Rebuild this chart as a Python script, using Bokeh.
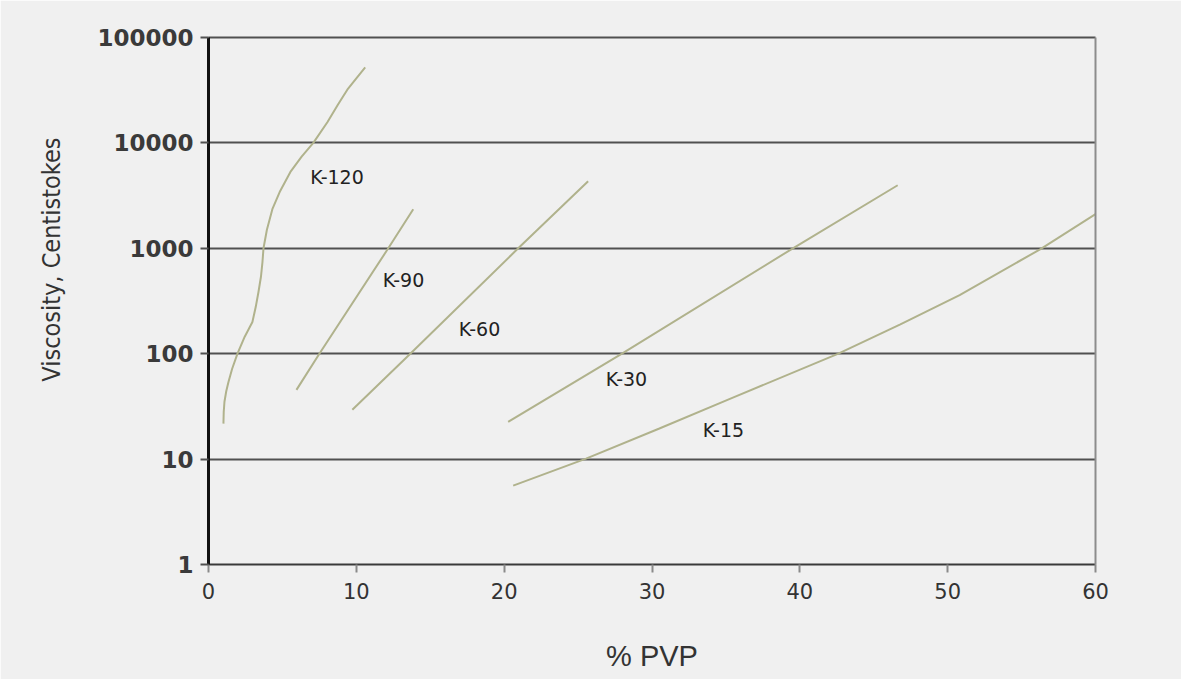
from bokeh.plotting import figure
from bokeh.models import Range1d, FixedTicker, NumeralTickFormatter, LogAxis, ColumnDataSource, Title
from bokeh.core.properties import value
from bokeh.embed import file_html
from bokeh.resources import INLINE

# ---- data ----
x_ticks = [0, 10, 20, 30, 40, 50, 60]
y_ticks = [1, 10, 100, 1000, 10000, 100000]

k120_x = [1.01, 1.03, 1.08, 1.2, 1.35, 1.6, 1.96, 2.45, 2.97, 3.2, 3.38, 3.55, 3.65, 3.72, 3.95, 4.32, 4.85, 5.54, 6.3, 7.09, 8.04, 8.75, 9.39, 10.0, 10.6]
k120_y = [21.7, 28, 35, 44, 54, 72, 100, 145, 200, 280, 385, 540, 740, 1000, 1500, 2350, 3500, 5300, 7400, 10000, 15700, 23000, 32000, 41000, 52000]

k90_x = [5.95, 7.50, 12.16, 13.85]
k90_y = [45.4, 100, 1000, 2350]

k60_x = [9.73, 13.65, 20.95, 25.68]
k60_y = [29.4, 100, 1000, 4330]

k30_x = [20.27, 27.97, 39.53, 46.62]
k30_y = [22.6, 100, 1000, 3965]

k15_x = [20.61, 25.54, 30.5, 35.27, 42.57, 46.8, 50.81, 56.28, 60.0]
k15_y = [5.6, 10.1, 19.5, 37.3, 99.6, 190, 360, 983, 2110]

label_text = ["K-120", "K-90", "K-60", "K-30", "K-15"]
label_x = [8.69, 13.19, 18.33, 28.27, 34.83]
label_y = [4750, 495, 172, 57.5, 18.7]

x_title = "% PVP"
y_title = "Viscosity, Centistokes"

BG = "#f0f0f0"
CURVE = "#b0b28c"
GRID = "#505050"

p = figure(width=1181, height=679,
           x_range=Range1d(0, 60), y_range=Range1d(1, 100000),
           y_axis_type="log",
           output_backend="svg", toolbar_location=None,
           min_border_left=208, min_border_right=86,
           min_border_top=37, min_border_bottom=115,
           background_fill_color=BG, border_fill_color=BG)
p.outline_line_color = None

# x axis
p.xaxis.ticker = FixedTicker(ticks=x_ticks)
p.xaxis.minor_tick_line_color = None
p.xaxis.major_tick_in = 0
p.xaxis.major_tick_out = 8
p.xaxis.major_tick_line_color = "#8a8a8a"
p.xaxis.major_tick_line_width = 2
p.xaxis.axis_line_color = "#3a3a3a"
p.xaxis.axis_line_width = 2
p.xaxis.major_label_text_font = "DejaVu Sans"
p.xaxis.major_label_text_font_size = "21px"
p.xaxis.major_label_text_color = "#333333"
p.xaxis.major_label_standoff = 10
p.xaxis.axis_label = x_title
p.xaxis.axis_label_text_font = "Liberation Sans"
p.xaxis.axis_label_text_font_style = "normal"
p.xaxis.axis_label_text_font_size = "29px"
p.xaxis.axis_label_text_color = "#333333"
p.xaxis.axis_label_standoff = 38

# y axis
p.yaxis.ticker = FixedTicker(ticks=y_ticks)
p.yaxis.formatter = NumeralTickFormatter(format="0")
p.yaxis.minor_tick_line_color = None
p.yaxis.major_tick_in = 0
p.yaxis.major_tick_out = 8
p.yaxis.major_tick_line_color = GRID
p.yaxis.major_tick_line_width = 2
p.yaxis.axis_line_color = "#111111"
p.yaxis.axis_line_width = 3
p.yaxis.major_label_text_font = "DejaVu Sans"
p.yaxis.major_label_text_font_style = "bold"
p.yaxis.major_label_text_font_size = "23px"
p.yaxis.major_label_text_color = "#3a3a3a"
p.yaxis.major_label_standoff = 7

# y title in the left side panel, shifted toward the top like the reference
p.add_layout(Title(text=y_title, align="right", offset=100, standoff=58,
                   text_font="DejaVu Sans Condensed", text_font_style="normal",
                   text_font_size="25px", text_color="#333333"), "left")

# grid
p.xgrid.grid_line_color = None
p.ygrid.ticker = FixedTicker(ticks=y_ticks)
p.ygrid.grid_line_color = GRID
p.ygrid.grid_line_width = 2
p.ygrid.minor_grid_line_color = None

# top and right frame lines
top_axis = LogAxis(ticker=FixedTicker(ticks=[]), axis_line_color=GRID, axis_line_width=2,
                   major_tick_line_color=None, minor_tick_line_color=None,
                   major_label_text_font_size="0px")
p.add_layout(top_axis, "above")
right_axis = LogAxis(ticker=FixedTicker(ticks=[]), axis_line_color="#8c8c8c", axis_line_width=2,
                     major_tick_line_color=None, minor_tick_line_color=None,
                     major_label_text_font_size="0px")
p.add_layout(right_axis, "right")

# curves
for xs, ys in [(k120_x, k120_y), (k90_x, k90_y), (k60_x, k60_y), (k30_x, k30_y), (k15_x, k15_y)]:
    p.line(xs, ys, line_color=CURVE, line_width=2)

src = ColumnDataSource(dict(x=label_x, y=label_y, t=label_text))
p.text(x="x", y="y", text="t", source=src,
       text_font=value("DejaVu Sans"), text_font_size="19px",
       text_color="#222222", text_align="center", text_baseline="middle")

open("out.html", "w").write(file_html(p, INLINE))
